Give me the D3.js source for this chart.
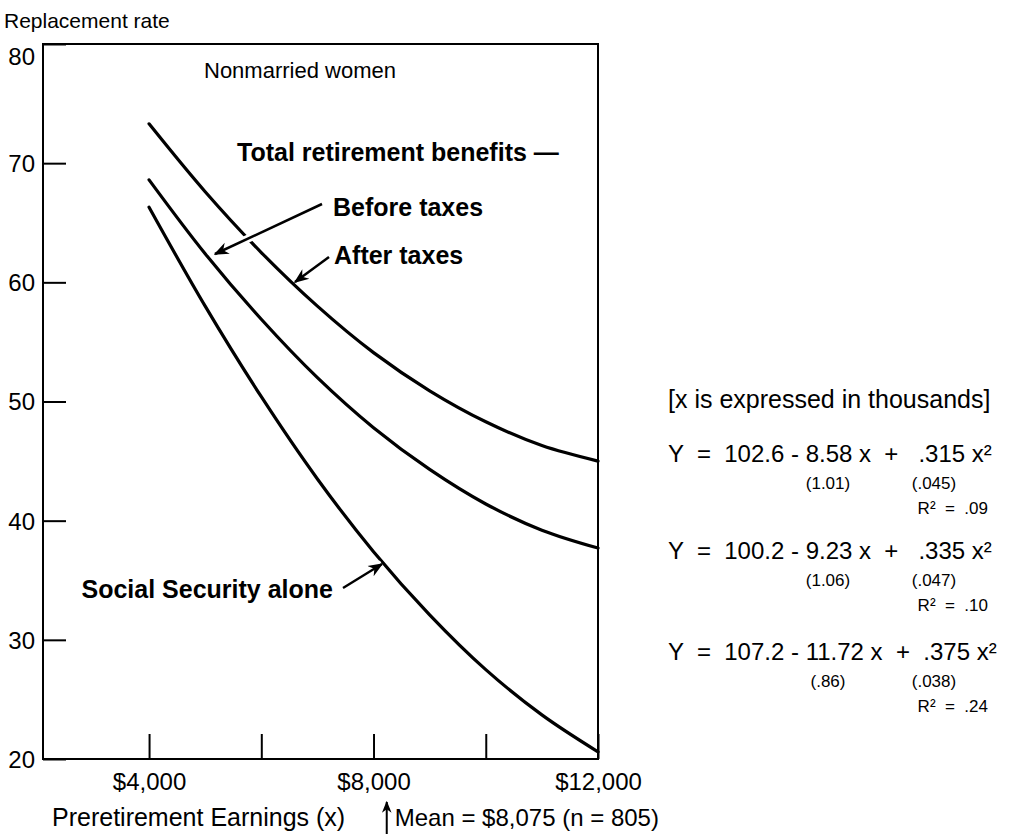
<!DOCTYPE html>
<html>
<head>
<meta charset="utf-8">
<script src="https://cdn.jsdelivr.net/npm/d3@7"></script>
<style>
  body { margin: 0; background: #fff; }
  svg { font-family: "Liberation Sans", Arial, Helvetica, sans-serif; }
  .lbl { font-weight: bold; }
</style>
</head>
<body>
<div id="figure"></div>
<script>
// earnings in thousands of dollars
var earnings = [4, 5, 6, 7, 8, 9, 10, 11, 12];
// replacement rates
var totalBefore = [73.3, 67.6, 62.5, 58.0, 54.1, 50.9, 48.3, 46.3, 45.0];
var totalAfter = [68.6, 62.4, 56.9, 52.0, 47.8, 44.3, 41.4, 39.2, 37.7];
var socialSecurity = [66.3, 58.0, 50.4, 43.5, 37.4, 32.1, 27.5, 23.7, 20.6];

var yTicks = [20, 30, 40, 50, 60, 70, 80];
var xTicks = [4000, 6000, 8000, 10000, 12000];
var xLabels = { 4000: "$4,000", 8000: "$8,000", 12000: "$12,000" };

var equations = [
    { eq: "Y  =  102.6 - 8.58 x  +   .315 x²", se1: "(1.01)", se2: "(.045)", r2: "R²  =  .09" },
    { eq: "Y  =  100.2 - 9.23 x  +   .335 x²", se1: "(1.06)", se2: "(.047)", r2: "R²  =  .10" },
    { eq: "Y  =  107.2 - 11.72 x  +  .375 x²", se1: "(.86)", se2: "(.038)", r2: "R²  =  .24" }
];

const margin = { top: 44, right: 428, bottom: 75, left: 43 };
var W = 1026, H = 834;
var width = W - margin.left - margin.right;
var height = H - margin.top - margin.bottom;

var svg = d3.select("#figure")
    .append("svg")
    .attr("width", W)
    .attr("height", H);

var g = svg.append("g")
    .attr("transform", `translate(${margin.left},${margin.top})`);

var x = d3.scaleLinear().domain([2110, 12000]).range([0, width]);
var y = d3.scaleLinear().domain([20, 80]).range([height, 0]);

// frame
g.append("rect")
    .attr("width", width)
    .attr("height", height)
    .attr("fill", "none")
    .attr("stroke", "#000")
    .attr("stroke-width", 2);

// y axis, ticks pointing inward
var yAxis = g.append("g")
    .call(d3.axisLeft(y).tickValues(yTicks).tickSizeInner(-23).tickSizeOuter(0).tickPadding(8));
yAxis.select(".domain").remove();
yAxis.selectAll("line").attr("stroke-width", 2);
yAxis.selectAll("text")
    .attr("font-size", 24)
    .attr("font-family", "Liberation Sans, Arial, sans-serif")
    .attr("dy", d => d == 80 ? "0.85em" : "0.35em");

// x axis, ticks pointing up
var xAxis = g.append("g")
    .attr("transform", `translate(0,${height})`)
    .call(d3.axisBottom(x).tickValues(xTicks).tickSizeInner(-25).tickSizeOuter(0).tickPadding(14)
        .tickFormat(d => xLabels[d] || ""));
xAxis.select(".domain").remove();
xAxis.selectAll("line").attr("stroke-width", 2);
xAxis.selectAll("text")
    .attr("font-size", 24)
    .attr("font-family", "Liberation Sans, Arial, sans-serif");

// curves
var lineGen = d3.line()
    .x((d, i) => x(earnings[i] * 1000))
    .y(d => y(d))
    .curve(d3.curveCatmullRom);

[totalBefore, totalAfter, socialSecurity].forEach(function (s) {
    g.append("path")
        .attr("d", lineGen(s))
        .attr("fill", "none")
        .attr("stroke", "#000")
        .attr("stroke-width", 3.2)
        .attr("stroke-linecap", "round");
});

// arrow marker
svg.append("defs").append("marker")
    .attr("id", "head")
    .attr("viewBox", "0 0 10 10")
    .attr("refX", 9).attr("refY", 5)
    .attr("markerWidth", 6).attr("markerHeight", 6)
    .attr("markerUnits", "strokeWidth")
    .attr("orient", "auto")
    .append("path")
    .attr("d", "M0,1 L10,5 L0,9 L3,5 Z")
    .attr("fill", "#000");

function arrow(x1, y1, x2, y2) {
    svg.append("line")
        .attr("x1", x1).attr("y1", y1).attr("x2", x2).attr("y2", y2)
        .attr("stroke", "#fff").attr("stroke-width", 8);
    svg.append("line")
        .attr("x1", x1).attr("y1", y1).attr("x2", x2).attr("y2", y2)
        .attr("stroke", "#000").attr("stroke-width", 2.5)
        .attr("marker-end", "url(#head)");
}

// annotations
svg.append("text").attr("x", 4).attr("y", 28).attr("font-size", 21).text("Replacement rate");
svg.append("text").attr("x", 204).attr("y", 78).attr("font-size", 22).text("Nonmarried women");

svg.append("text").attr("class", "lbl").attr("x", 237).attr("y", 161).attr("font-size", 25).text("Total retirement benefits —");
svg.append("text").attr("class", "lbl").attr("x", 333).attr("y", 216).attr("font-size", 25).text("Before taxes");
svg.append("text").attr("class", "lbl").attr("x", 334).attr("y", 264).attr("font-size", 25).text("After taxes");
svg.append("text").attr("class", "lbl").attr("x", 333).attr("y", 598).attr("font-size", 25)
    .attr("text-anchor", "end").text("Social Security alone");

arrow(322, 204, 215, 254);
arrow(329, 257, 295, 282);
arrow(343, 588, 382, 564);

// x axis title and mean marker
svg.append("text").attr("x", 52).attr("y", 826).attr("font-size", 25).text("Preretirement Earnings (x)");
var mx = margin.left + x(8075) + 9;
svg.append("line")
    .attr("x1", mx).attr("y1", 834).attr("x2", mx).attr("y2", 802)
    .attr("stroke", "#000").attr("stroke-width", 2)
    .attr("marker-end", "url(#head)");
svg.append("text").attr("x", mx + 8).attr("y", 826).attr("font-size", 24)
    .text("Mean = $8,075 (n = 805)");

// equations
var eqX = 668;
svg.append("text").attr("x", eqX).attr("y", 408).attr("font-size", 25).text("[x is expressed in thousands]");
var eqY = [462, 559, 660];
equations.forEach(function (e, i) {
    var by = eqY[i];
    svg.append("text").attr("x", eqX).attr("y", by).attr("font-size", 24)
        .style("white-space", "pre").text(e.eq);
    svg.append("text").attr("x", 828).attr("y", by + 27).attr("font-size", 17)
        .attr("text-anchor", "middle").text(e.se1);
    svg.append("text").attr("x", 934).attr("y", by + 27).attr("font-size", 17)
        .attr("text-anchor", "middle").text(e.se2);
    svg.append("text").attr("x", 988).attr("y", by + 52).attr("font-size", 17)
        .attr("text-anchor", "end").style("white-space", "pre").text(e.r2);
});
</script>
</body>
</html>
